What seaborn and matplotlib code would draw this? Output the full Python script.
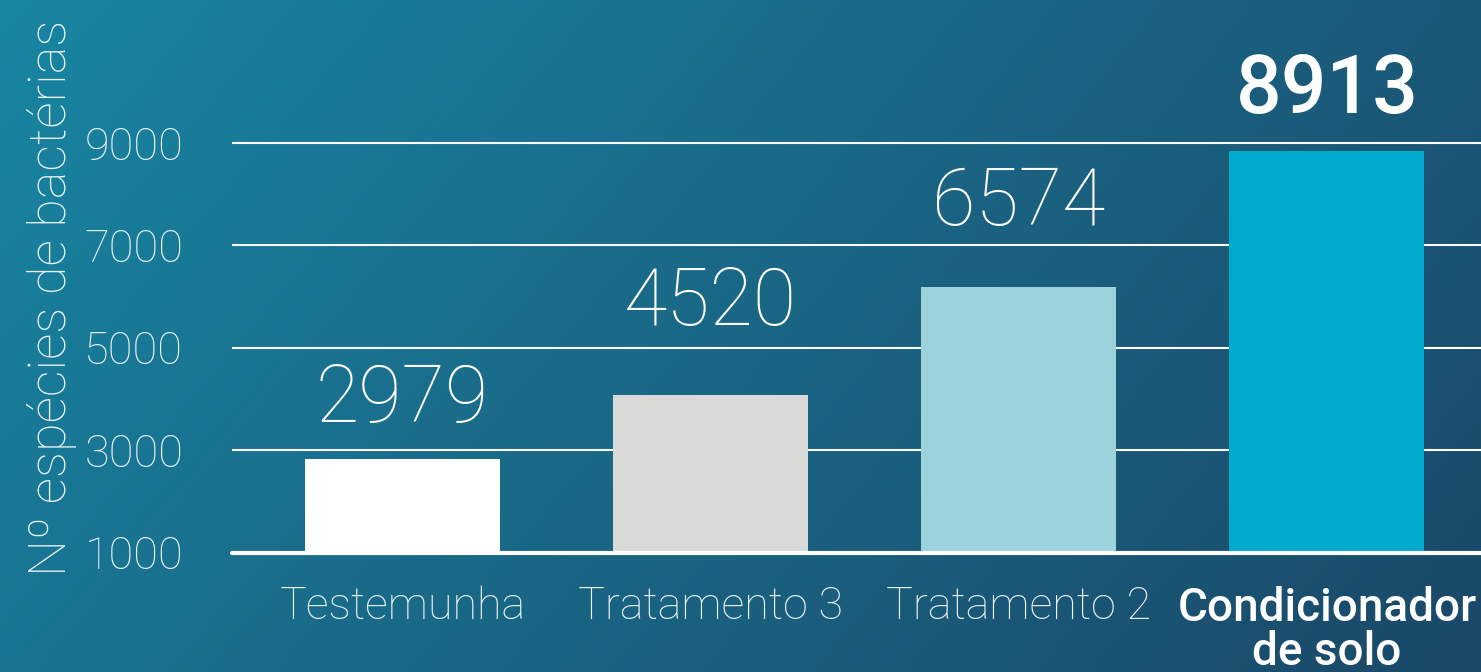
import numpy as np
import matplotlib
matplotlib.use("Agg")
import matplotlib.pyplot as plt
import seaborn as sns

categories = ["Testemunha", "Tratamento 3", "Tratamento 2", "Condicionador\nde solo"]
bar_values = [2827, 4077, 6187, 8843]
value_labels = ["2979", "4520", "6574", "8913"]
bar_colors = ["#ffffff", "#d9d9d8", "#9bd2dc", "#00acce"]
y_ticks = [1000, 3000, 5000, 7000, 9000]

sns.set_theme(style="white")
plt.rcParams["font.family"] = ["Roboto", "DejaVu Sans"]

W, H, DPI = 1481, 672, 100
fig = plt.figure(figsize=(W / DPI, H / DPI), dpi=DPI)

# gradient background
bg = fig.add_axes([0, 0, 1, 1], zorder=0)
tl = np.array([0x18, 0x86, 0xa2]) / 255
tr = np.array([0x1b, 0x58, 0x78]) / 255
bl = np.array([0x19, 0x74, 0x92]) / 255
br = np.array([0x1b, 0x48, 0x68]) / 255
u = np.linspace(0, 1, 300)[None, :, None]
v = np.linspace(0, 1, 140)[:, None, None]
img = (1 - v) * ((1 - u) * tl + u * tr) + v * ((1 - u) * bl + u * br)
bg.imshow(img, aspect="auto", extent=[0, 1, 0, 1], interpolation="bilinear")
bg.set_axis_off()

px_per_1000 = 51.19
base_px = 552.5
ax = fig.add_axes([232 / W, (H - base_px) / H, 1 - 232 / W, base_px / H], zorder=1)
ax.patch.set_alpha(0)

sns.barplot(x=categories, y=bar_values, hue=categories, palette=bar_colors,
            width=0.633, legend=False, ax=ax, saturation=1, zorder=3, edgecolor="none")

ax.set_xlim(-0.553, 3.5)
ax.set_ylim(1000, 1000 + base_px / px_per_1000 * 1000)

for t in y_ticks[1:]:
    ax.axhline(t, color="white", lw=1.5, zorder=1)
ax.axhline(1000, color="white", lw=3.0, zorder=5, clip_on=False)

for s in ax.spines.values():
    s.set_visible(False)

ax.set_yticks(y_ticks)
ax.set_yticklabels([str(t) for t in y_ticks], fontsize=32.5, color="#eaf3f5", fontweight="light")
ax.tick_params(axis="y", length=0, pad=35)
ax.set_xticks(range(len(categories)))
ax.set_xticklabels(categories, fontsize=32.3, color="#eaf3f5", fontweight="light", linespacing=1.0)
ax.tick_params(axis="x", length=0, pad=24)
xtl = ax.get_xticklabels()
xtl[-1].set_fontweight("medium")
xtl[-1].set_fontsize(33)
xtl[-1].set_color("white")
ax.set_xlabel("")
ax.set_ylabel("")

pads_px = [37, 70, 62, 38]
for i, (val, lab) in enumerate(zip(bar_values, value_labels)):
    bold = i == len(bar_values) - 1
    ax.annotate(lab, (i, val), xytext=(0, pads_px[i] * 0.72), textcoords="offset points",
                ha="center", va="baseline", fontsize=58 if bold else 57, color="white",
                fontweight="medium" if bold else "light", annotation_clip=False)

fig.text(52 / W, 1 - 298 / H, "Nº espécies de bactérias", rotation=90, ha="center", va="center",
         fontsize=37.5, color="#eaf3f5", fontweight="light")

fig.savefig("out.png", dpi=DPI)
